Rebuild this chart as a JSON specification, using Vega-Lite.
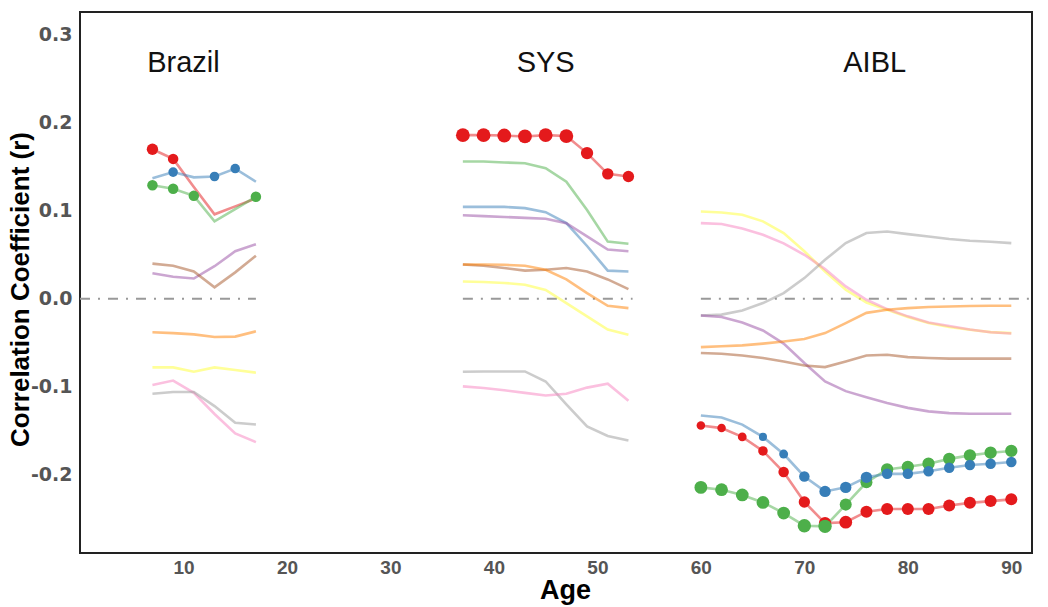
{
  "$schema": "https://vega.github.io/schema/vega-lite/v6.json",
  "width": 952,
  "height": 541,
  "autosize": "none",
  "padding": {"left": 80, "top": 12, "right": 16, "bottom": 54},
  "background": "white",
  "config": {
    "view": {"stroke": "#222", "strokeWidth": 2},
    "font": "Liberation Sans"
  },
  "datasets": {
    "corr": [
      {"cohort":"Brazil","series":"V1","age":7,"r":0.170,"sig":3.4},
      {"cohort":"Brazil","series":"V1","age":9,"r":0.159,"sig":2.9},
      {"cohort":"Brazil","series":"V1","age":11,"r":0.127,"sig":0},
      {"cohort":"Brazil","series":"V1","age":13,"r":0.096,"sig":0},
      {"cohort":"Brazil","series":"V1","age":15,"r":0.105,"sig":0},
      {"cohort":"Brazil","series":"V1","age":17,"r":0.114,"sig":0},
      {"cohort":"Brazil","series":"V3","age":7,"r":0.129,"sig":2.9},
      {"cohort":"Brazil","series":"V3","age":9,"r":0.125,"sig":2.9},
      {"cohort":"Brazil","series":"V3","age":11,"r":0.117,"sig":2.9},
      {"cohort":"Brazil","series":"V3","age":13,"r":0.088,"sig":0},
      {"cohort":"Brazil","series":"V3","age":15,"r":0.102,"sig":0},
      {"cohort":"Brazil","series":"V3","age":17,"r":0.116,"sig":2.9},
      {"cohort":"Brazil","series":"V2","age":7,"r":0.137,"sig":0},
      {"cohort":"Brazil","series":"V2","age":9,"r":0.144,"sig":2.4},
      {"cohort":"Brazil","series":"V2","age":11,"r":0.138,"sig":0},
      {"cohort":"Brazil","series":"V2","age":13,"r":0.139,"sig":2.4},
      {"cohort":"Brazil","series":"V2","age":15,"r":0.148,"sig":2.4},
      {"cohort":"Brazil","series":"V2","age":17,"r":0.133,"sig":0},
      {"cohort":"Brazil","series":"V4","age":7,"r":0.029,"sig":0},
      {"cohort":"Brazil","series":"V4","age":9,"r":0.025,"sig":0},
      {"cohort":"Brazil","series":"V4","age":11,"r":0.023,"sig":0},
      {"cohort":"Brazil","series":"V4","age":13,"r":0.037,"sig":0},
      {"cohort":"Brazil","series":"V4","age":15,"r":0.054,"sig":0},
      {"cohort":"Brazil","series":"V4","age":17,"r":0.062,"sig":0},
      {"cohort":"Brazil","series":"V5","age":7,"r":-0.038,"sig":0},
      {"cohort":"Brazil","series":"V5","age":9,"r":-0.039,"sig":0},
      {"cohort":"Brazil","series":"V5","age":11,"r":-0.0405,"sig":0},
      {"cohort":"Brazil","series":"V5","age":13,"r":-0.0435,"sig":0},
      {"cohort":"Brazil","series":"V5","age":15,"r":-0.043,"sig":0},
      {"cohort":"Brazil","series":"V5","age":17,"r":-0.037,"sig":0},
      {"cohort":"Brazil","series":"V6","age":7,"r":-0.078,"sig":0},
      {"cohort":"Brazil","series":"V6","age":9,"r":-0.078,"sig":0},
      {"cohort":"Brazil","series":"V6","age":11,"r":-0.083,"sig":0},
      {"cohort":"Brazil","series":"V6","age":13,"r":-0.078,"sig":0},
      {"cohort":"Brazil","series":"V6","age":15,"r":-0.081,"sig":0},
      {"cohort":"Brazil","series":"V6","age":17,"r":-0.084,"sig":0},
      {"cohort":"Brazil","series":"V7","age":7,"r":0.040,"sig":0},
      {"cohort":"Brazil","series":"V7","age":9,"r":0.0375,"sig":0},
      {"cohort":"Brazil","series":"V7","age":11,"r":0.031,"sig":0},
      {"cohort":"Brazil","series":"V7","age":13,"r":0.013,"sig":0},
      {"cohort":"Brazil","series":"V7","age":15,"r":0.030,"sig":0},
      {"cohort":"Brazil","series":"V7","age":17,"r":0.049,"sig":0},
      {"cohort":"Brazil","series":"V8","age":7,"r":-0.098,"sig":0},
      {"cohort":"Brazil","series":"V8","age":9,"r":-0.093,"sig":0},
      {"cohort":"Brazil","series":"V8","age":11,"r":-0.107,"sig":0},
      {"cohort":"Brazil","series":"V8","age":13,"r":-0.131,"sig":0},
      {"cohort":"Brazil","series":"V8","age":15,"r":-0.153,"sig":0},
      {"cohort":"Brazil","series":"V8","age":17,"r":-0.163,"sig":0},
      {"cohort":"Brazil","series":"V9","age":7,"r":-0.108,"sig":0},
      {"cohort":"Brazil","series":"V9","age":9,"r":-0.106,"sig":0},
      {"cohort":"Brazil","series":"V9","age":11,"r":-0.106,"sig":0},
      {"cohort":"Brazil","series":"V9","age":13,"r":-0.122,"sig":0},
      {"cohort":"Brazil","series":"V9","age":15,"r":-0.141,"sig":0},
      {"cohort":"Brazil","series":"V9","age":17,"r":-0.143,"sig":0},

      {"cohort":"SYS","series":"V1","age":37,"r":0.186,"sig":5},
      {"cohort":"SYS","series":"V1","age":39,"r":0.186,"sig":5},
      {"cohort":"SYS","series":"V1","age":41,"r":0.1856,"sig":5},
      {"cohort":"SYS","series":"V1","age":43,"r":0.1845,"sig":5},
      {"cohort":"SYS","series":"V1","age":45,"r":0.186,"sig":5},
      {"cohort":"SYS","series":"V1","age":47,"r":0.185,"sig":5},
      {"cohort":"SYS","series":"V1","age":49,"r":0.1656,"sig":4},
      {"cohort":"SYS","series":"V1","age":51,"r":0.142,"sig":3.4},
      {"cohort":"SYS","series":"V1","age":53,"r":0.139,"sig":3.4},
      {"cohort":"SYS","series":"V3","age":37,"r":0.156,"sig":0},
      {"cohort":"SYS","series":"V3","age":39,"r":0.156,"sig":0},
      {"cohort":"SYS","series":"V3","age":41,"r":0.155,"sig":0},
      {"cohort":"SYS","series":"V3","age":43,"r":0.154,"sig":0},
      {"cohort":"SYS","series":"V3","age":45,"r":0.1485,"sig":0},
      {"cohort":"SYS","series":"V3","age":47,"r":0.133,"sig":0},
      {"cohort":"SYS","series":"V3","age":49,"r":0.101,"sig":0},
      {"cohort":"SYS","series":"V3","age":51,"r":0.065,"sig":0},
      {"cohort":"SYS","series":"V3","age":53,"r":0.0625,"sig":0},
      {"cohort":"SYS","series":"V2","age":37,"r":0.1045,"sig":0},
      {"cohort":"SYS","series":"V2","age":39,"r":0.1045,"sig":0},
      {"cohort":"SYS","series":"V2","age":41,"r":0.1045,"sig":0},
      {"cohort":"SYS","series":"V2","age":43,"r":0.103,"sig":0},
      {"cohort":"SYS","series":"V2","age":45,"r":0.0985,"sig":0},
      {"cohort":"SYS","series":"V2","age":47,"r":0.086,"sig":0},
      {"cohort":"SYS","series":"V2","age":49,"r":0.060,"sig":0},
      {"cohort":"SYS","series":"V2","age":51,"r":0.032,"sig":0},
      {"cohort":"SYS","series":"V2","age":53,"r":0.031,"sig":0},
      {"cohort":"SYS","series":"V4","age":37,"r":0.095,"sig":0},
      {"cohort":"SYS","series":"V4","age":39,"r":0.094,"sig":0},
      {"cohort":"SYS","series":"V4","age":41,"r":0.093,"sig":0},
      {"cohort":"SYS","series":"V4","age":43,"r":0.092,"sig":0},
      {"cohort":"SYS","series":"V4","age":45,"r":0.091,"sig":0},
      {"cohort":"SYS","series":"V4","age":47,"r":0.086,"sig":0},
      {"cohort":"SYS","series":"V4","age":49,"r":0.071,"sig":0},
      {"cohort":"SYS","series":"V4","age":51,"r":0.056,"sig":0},
      {"cohort":"SYS","series":"V4","age":53,"r":0.054,"sig":0},
      {"cohort":"SYS","series":"V7","age":37,"r":0.039,"sig":0},
      {"cohort":"SYS","series":"V7","age":39,"r":0.0375,"sig":0},
      {"cohort":"SYS","series":"V7","age":41,"r":0.035,"sig":0},
      {"cohort":"SYS","series":"V7","age":43,"r":0.032,"sig":0},
      {"cohort":"SYS","series":"V7","age":45,"r":0.033,"sig":0},
      {"cohort":"SYS","series":"V7","age":47,"r":0.035,"sig":0},
      {"cohort":"SYS","series":"V7","age":49,"r":0.031,"sig":0},
      {"cohort":"SYS","series":"V7","age":51,"r":0.022,"sig":0},
      {"cohort":"SYS","series":"V7","age":53,"r":0.011,"sig":0},
      {"cohort":"SYS","series":"V5","age":37,"r":0.039,"sig":0},
      {"cohort":"SYS","series":"V5","age":39,"r":0.039,"sig":0},
      {"cohort":"SYS","series":"V5","age":41,"r":0.0386,"sig":0},
      {"cohort":"SYS","series":"V5","age":43,"r":0.0375,"sig":0},
      {"cohort":"SYS","series":"V5","age":45,"r":0.033,"sig":0},
      {"cohort":"SYS","series":"V5","age":47,"r":0.022,"sig":0},
      {"cohort":"SYS","series":"V5","age":49,"r":0.0065,"sig":0},
      {"cohort":"SYS","series":"V5","age":51,"r":-0.008,"sig":0},
      {"cohort":"SYS","series":"V5","age":53,"r":-0.0106,"sig":0},
      {"cohort":"SYS","series":"V6","age":37,"r":0.0197,"sig":0},
      {"cohort":"SYS","series":"V6","age":39,"r":0.019,"sig":0},
      {"cohort":"SYS","series":"V6","age":41,"r":0.018,"sig":0},
      {"cohort":"SYS","series":"V6","age":43,"r":0.016,"sig":0},
      {"cohort":"SYS","series":"V6","age":45,"r":0.010,"sig":0},
      {"cohort":"SYS","series":"V6","age":47,"r":-0.005,"sig":0},
      {"cohort":"SYS","series":"V6","age":49,"r":-0.020,"sig":0},
      {"cohort":"SYS","series":"V6","age":51,"r":-0.035,"sig":0},
      {"cohort":"SYS","series":"V6","age":53,"r":-0.041,"sig":0},
      {"cohort":"SYS","series":"V9","age":37,"r":-0.083,"sig":0},
      {"cohort":"SYS","series":"V9","age":39,"r":-0.0826,"sig":0},
      {"cohort":"SYS","series":"V9","age":41,"r":-0.0826,"sig":0},
      {"cohort":"SYS","series":"V9","age":43,"r":-0.0826,"sig":0},
      {"cohort":"SYS","series":"V9","age":45,"r":-0.094,"sig":0},
      {"cohort":"SYS","series":"V9","age":47,"r":-0.120,"sig":0},
      {"cohort":"SYS","series":"V9","age":49,"r":-0.145,"sig":0},
      {"cohort":"SYS","series":"V9","age":51,"r":-0.156,"sig":0},
      {"cohort":"SYS","series":"V9","age":53,"r":-0.161,"sig":0},
      {"cohort":"SYS","series":"V8","age":37,"r":-0.0996,"sig":0},
      {"cohort":"SYS","series":"V8","age":39,"r":-0.1015,"sig":0},
      {"cohort":"SYS","series":"V8","age":41,"r":-0.104,"sig":0},
      {"cohort":"SYS","series":"V8","age":43,"r":-0.107,"sig":0},
      {"cohort":"SYS","series":"V8","age":45,"r":-0.110,"sig":0},
      {"cohort":"SYS","series":"V8","age":47,"r":-0.108,"sig":0},
      {"cohort":"SYS","series":"V8","age":49,"r":-0.101,"sig":0},
      {"cohort":"SYS","series":"V8","age":51,"r":-0.0966,"sig":0},
      {"cohort":"SYS","series":"V8","age":53,"r":-0.116,"sig":0},

      {"cohort":"AIBL","series":"V1","age":60,"r":-0.144,"sig":1.9},
      {"cohort":"AIBL","series":"V1","age":62,"r":-0.147,"sig":1.9},
      {"cohort":"AIBL","series":"V1","age":64,"r":-0.157,"sig":2.0},
      {"cohort":"AIBL","series":"V1","age":66,"r":-0.173,"sig":2.4},
      {"cohort":"AIBL","series":"V1","age":68,"r":-0.197,"sig":2.9},
      {"cohort":"AIBL","series":"V1","age":70,"r":-0.231,"sig":3.4},
      {"cohort":"AIBL","series":"V1","age":72,"r":-0.255,"sig":4.0},
      {"cohort":"AIBL","series":"V1","age":74,"r":-0.254,"sig":4.3},
      {"cohort":"AIBL","series":"V1","age":76,"r":-0.242,"sig":3.8},
      {"cohort":"AIBL","series":"V1","age":78,"r":-0.239,"sig":3.8},
      {"cohort":"AIBL","series":"V1","age":80,"r":-0.239,"sig":3.8},
      {"cohort":"AIBL","series":"V1","age":82,"r":-0.239,"sig":3.8},
      {"cohort":"AIBL","series":"V1","age":84,"r":-0.235,"sig":3.8},
      {"cohort":"AIBL","series":"V1","age":86,"r":-0.232,"sig":3.8},
      {"cohort":"AIBL","series":"V1","age":88,"r":-0.230,"sig":3.8},
      {"cohort":"AIBL","series":"V1","age":90,"r":-0.228,"sig":3.8},
      {"cohort":"AIBL","series":"V3","age":60,"r":-0.2144,"sig":4.3},
      {"cohort":"AIBL","series":"V3","age":62,"r":-0.217,"sig":4.3},
      {"cohort":"AIBL","series":"V3","age":64,"r":-0.223,"sig":4.3},
      {"cohort":"AIBL","series":"V3","age":66,"r":-0.2315,"sig":4.3},
      {"cohort":"AIBL","series":"V3","age":68,"r":-0.2436,"sig":4.3},
      {"cohort":"AIBL","series":"V3","age":70,"r":-0.258,"sig":4.7},
      {"cohort":"AIBL","series":"V3","age":72,"r":-0.2587,"sig":4.7},
      {"cohort":"AIBL","series":"V3","age":74,"r":-0.234,"sig":3.8},
      {"cohort":"AIBL","series":"V3","age":76,"r":-0.2087,"sig":3.8},
      {"cohort":"AIBL","series":"V3","age":78,"r":-0.194,"sig":4.0},
      {"cohort":"AIBL","series":"V3","age":80,"r":-0.191,"sig":4.0},
      {"cohort":"AIBL","series":"V3","age":82,"r":-0.1875,"sig":4.0},
      {"cohort":"AIBL","series":"V3","age":84,"r":-0.182,"sig":4.0},
      {"cohort":"AIBL","series":"V3","age":86,"r":-0.178,"sig":4.0},
      {"cohort":"AIBL","series":"V3","age":88,"r":-0.175,"sig":4.0},
      {"cohort":"AIBL","series":"V3","age":90,"r":-0.173,"sig":4.0},
      {"cohort":"AIBL","series":"V2","age":60,"r":-0.1326,"sig":0},
      {"cohort":"AIBL","series":"V2","age":62,"r":-0.135,"sig":0},
      {"cohort":"AIBL","series":"V2","age":64,"r":-0.143,"sig":0},
      {"cohort":"AIBL","series":"V2","age":66,"r":-0.157,"sig":1.7},
      {"cohort":"AIBL","series":"V2","age":68,"r":-0.1765,"sig":2.1},
      {"cohort":"AIBL","series":"V2","age":70,"r":-0.202,"sig":2.9},
      {"cohort":"AIBL","series":"V2","age":72,"r":-0.219,"sig":3.4},
      {"cohort":"AIBL","series":"V2","age":74,"r":-0.2144,"sig":3.4},
      {"cohort":"AIBL","series":"V2","age":76,"r":-0.203,"sig":3.4},
      {"cohort":"AIBL","series":"V2","age":78,"r":-0.199,"sig":2.9},
      {"cohort":"AIBL","series":"V2","age":80,"r":-0.199,"sig":2.9},
      {"cohort":"AIBL","series":"V2","age":82,"r":-0.196,"sig":2.9},
      {"cohort":"AIBL","series":"V2","age":84,"r":-0.192,"sig":2.9},
      {"cohort":"AIBL","series":"V2","age":86,"r":-0.189,"sig":2.9},
      {"cohort":"AIBL","series":"V2","age":88,"r":-0.1875,"sig":2.9},
      {"cohort":"AIBL","series":"V2","age":90,"r":-0.1856,"sig":2.9},
      {"cohort":"AIBL","series":"V6","age":60,"r":0.0992,"sig":0},
      {"cohort":"AIBL","series":"V6","age":62,"r":0.098,"sig":0},
      {"cohort":"AIBL","series":"V6","age":64,"r":0.0955,"sig":0},
      {"cohort":"AIBL","series":"V6","age":66,"r":0.088,"sig":0},
      {"cohort":"AIBL","series":"V6","age":68,"r":0.0747,"sig":0},
      {"cohort":"AIBL","series":"V6","age":70,"r":0.054,"sig":0},
      {"cohort":"AIBL","series":"V6","age":72,"r":0.031,"sig":0},
      {"cohort":"AIBL","series":"V6","age":74,"r":0.0102,"sig":0},
      {"cohort":"AIBL","series":"V6","age":76,"r":-0.0042,"sig":0},
      {"cohort":"AIBL","series":"V6","age":78,"r":-0.0125,"sig":0},
      {"cohort":"AIBL","series":"V6","age":80,"r":-0.0208,"sig":0},
      {"cohort":"AIBL","series":"V6","age":82,"r":-0.0276,"sig":0},
      {"cohort":"AIBL","series":"V6","age":84,"r":-0.032,"sig":0},
      {"cohort":"AIBL","series":"V6","age":86,"r":-0.0352,"sig":0},
      {"cohort":"AIBL","series":"V6","age":88,"r":-0.0379,"sig":0},
      {"cohort":"AIBL","series":"V6","age":90,"r":-0.039,"sig":0},
      {"cohort":"AIBL","series":"V8","age":60,"r":0.086,"sig":0},
      {"cohort":"AIBL","series":"V8","age":62,"r":0.085,"sig":0},
      {"cohort":"AIBL","series":"V8","age":64,"r":0.080,"sig":0},
      {"cohort":"AIBL","series":"V8","age":66,"r":0.0727,"sig":0},
      {"cohort":"AIBL","series":"V8","age":68,"r":0.063,"sig":0},
      {"cohort":"AIBL","series":"V8","age":70,"r":0.050,"sig":0},
      {"cohort":"AIBL","series":"V8","age":72,"r":0.0337,"sig":0},
      {"cohort":"AIBL","series":"V8","age":74,"r":0.014,"sig":0},
      {"cohort":"AIBL","series":"V8","age":76,"r":-0.0011,"sig":0},
      {"cohort":"AIBL","series":"V8","age":78,"r":-0.0117,"sig":0},
      {"cohort":"AIBL","series":"V8","age":80,"r":-0.020,"sig":0},
      {"cohort":"AIBL","series":"V8","age":82,"r":-0.027,"sig":0},
      {"cohort":"AIBL","series":"V8","age":84,"r":-0.031,"sig":0},
      {"cohort":"AIBL","series":"V8","age":86,"r":-0.035,"sig":0},
      {"cohort":"AIBL","series":"V8","age":88,"r":-0.038,"sig":0},
      {"cohort":"AIBL","series":"V8","age":90,"r":-0.0395,"sig":0},
      {"cohort":"AIBL","series":"V9","age":60,"r":-0.019,"sig":0},
      {"cohort":"AIBL","series":"V9","age":62,"r":-0.018,"sig":0},
      {"cohort":"AIBL","series":"V9","age":64,"r":-0.0133,"sig":0},
      {"cohort":"AIBL","series":"V9","age":66,"r":-0.0049,"sig":0},
      {"cohort":"AIBL","series":"V9","age":68,"r":0.0065,"sig":0},
      {"cohort":"AIBL","series":"V9","age":70,"r":0.0235,"sig":0},
      {"cohort":"AIBL","series":"V9","age":72,"r":0.0443,"sig":0},
      {"cohort":"AIBL","series":"V9","age":74,"r":0.0633,"sig":0},
      {"cohort":"AIBL","series":"V9","age":76,"r":0.0747,"sig":0},
      {"cohort":"AIBL","series":"V9","age":78,"r":0.0765,"sig":0},
      {"cohort":"AIBL","series":"V9","age":80,"r":0.0735,"sig":0},
      {"cohort":"AIBL","series":"V9","age":82,"r":0.0708,"sig":0},
      {"cohort":"AIBL","series":"V9","age":84,"r":0.068,"sig":0},
      {"cohort":"AIBL","series":"V9","age":86,"r":0.066,"sig":0},
      {"cohort":"AIBL","series":"V9","age":88,"r":0.0648,"sig":0},
      {"cohort":"AIBL","series":"V9","age":90,"r":0.0633,"sig":0},
      {"cohort":"AIBL","series":"V4","age":60,"r":-0.019,"sig":0},
      {"cohort":"AIBL","series":"V4","age":62,"r":-0.0208,"sig":0},
      {"cohort":"AIBL","series":"V4","age":64,"r":-0.027,"sig":0},
      {"cohort":"AIBL","series":"V4","age":66,"r":-0.036,"sig":0},
      {"cohort":"AIBL","series":"V4","age":68,"r":-0.051,"sig":0},
      {"cohort":"AIBL","series":"V4","age":70,"r":-0.073,"sig":0},
      {"cohort":"AIBL","series":"V4","age":72,"r":-0.094,"sig":0},
      {"cohort":"AIBL","series":"V4","age":74,"r":-0.105,"sig":0},
      {"cohort":"AIBL","series":"V4","age":76,"r":-0.112,"sig":0},
      {"cohort":"AIBL","series":"V4","age":78,"r":-0.1185,"sig":0},
      {"cohort":"AIBL","series":"V4","age":80,"r":-0.124,"sig":0},
      {"cohort":"AIBL","series":"V4","age":82,"r":-0.128,"sig":0},
      {"cohort":"AIBL","series":"V4","age":84,"r":-0.130,"sig":0},
      {"cohort":"AIBL","series":"V4","age":86,"r":-0.1307,"sig":0},
      {"cohort":"AIBL","series":"V4","age":88,"r":-0.1307,"sig":0},
      {"cohort":"AIBL","series":"V4","age":90,"r":-0.1307,"sig":0},
      {"cohort":"AIBL","series":"V5","age":60,"r":-0.055,"sig":0},
      {"cohort":"AIBL","series":"V5","age":62,"r":-0.054,"sig":0},
      {"cohort":"AIBL","series":"V5","age":64,"r":-0.053,"sig":0},
      {"cohort":"AIBL","series":"V5","age":66,"r":-0.051,"sig":0},
      {"cohort":"AIBL","series":"V5","age":68,"r":-0.0485,"sig":0},
      {"cohort":"AIBL","series":"V5","age":70,"r":-0.0458,"sig":0},
      {"cohort":"AIBL","series":"V5","age":72,"r":-0.039,"sig":0},
      {"cohort":"AIBL","series":"V5","age":74,"r":-0.0276,"sig":0},
      {"cohort":"AIBL","series":"V5","age":76,"r":-0.016,"sig":0},
      {"cohort":"AIBL","series":"V5","age":78,"r":-0.0125,"sig":0},
      {"cohort":"AIBL","series":"V5","age":80,"r":-0.0106,"sig":0},
      {"cohort":"AIBL","series":"V5","age":82,"r":-0.0094,"sig":0},
      {"cohort":"AIBL","series":"V5","age":84,"r":-0.0087,"sig":0},
      {"cohort":"AIBL","series":"V5","age":86,"r":-0.0083,"sig":0},
      {"cohort":"AIBL","series":"V5","age":88,"r":-0.008,"sig":0},
      {"cohort":"AIBL","series":"V5","age":90,"r":-0.008,"sig":0},
      {"cohort":"AIBL","series":"V7","age":60,"r":-0.0617,"sig":0},
      {"cohort":"AIBL","series":"V7","age":62,"r":-0.0625,"sig":0},
      {"cohort":"AIBL","series":"V7","age":64,"r":-0.0644,"sig":0},
      {"cohort":"AIBL","series":"V7","age":66,"r":-0.0674,"sig":0},
      {"cohort":"AIBL","series":"V7","age":68,"r":-0.0712,"sig":0},
      {"cohort":"AIBL","series":"V7","age":70,"r":-0.0758,"sig":0},
      {"cohort":"AIBL","series":"V7","age":72,"r":-0.0777,"sig":0},
      {"cohort":"AIBL","series":"V7","age":74,"r":-0.0712,"sig":0},
      {"cohort":"AIBL","series":"V7","age":76,"r":-0.0644,"sig":0},
      {"cohort":"AIBL","series":"V7","age":78,"r":-0.0636,"sig":0},
      {"cohort":"AIBL","series":"V7","age":80,"r":-0.0663,"sig":0},
      {"cohort":"AIBL","series":"V7","age":82,"r":-0.0674,"sig":0},
      {"cohort":"AIBL","series":"V7","age":84,"r":-0.068,"sig":0},
      {"cohort":"AIBL","series":"V7","age":86,"r":-0.068,"sig":0},
      {"cohort":"AIBL","series":"V7","age":88,"r":-0.068,"sig":0},
      {"cohort":"AIBL","series":"V7","age":90,"r":-0.068,"sig":0}
    ],
    "zero": [
      {"cohort":"Brazil","from":0,"to":17,"r":0},
      {"cohort":"SYS","from":37,"to":53.4,"r":0},
      {"cohort":"AIBL","from":60,"to":92,"r":0}
    ],
    "titles": [
      {"label":"Brazil","age":10,"r":0.258},
      {"label":"SYS","age":45,"r":0.258},
      {"label":"AIBL","age":76.8,"r":0.258}
    ]
  },
  "encoding": {
    "x": {
      "field": "age", "type": "quantitative",
      "scale": {"domain": [0, 92], "nice": false, "zero": false},
      "axis": {
        "title": "Age", "values": [10,20,30,40,50,60,70,80,90],
        "grid": false, "ticks": false, "domain": false,
        "labelFontSize": 19, "labelFontWeight": "bold", "labelColor": "#555555",
        "labelPadding": 5, "labelFont": "Liberation Sans",
        "titleFontSize": 27, "titleFontWeight": "bold", "titleColor": "#000000",
        "titlePadding": 0, "titleFont": "Liberation Sans", "titleX": 485
      }
    },
    "y": {
      "field": "r", "type": "quantitative",
      "scale": {"domain": [-0.289, 0.326], "nice": false, "zero": false},
      "axis": {
        "title": "Correlation Coefficient (r)", "values": [-0.2,-0.1,0,0.1,0.2,0.3],
        "labelExpr": "replace(format(datum.value, '.1f'), '\u2212', '-')",
        "grid": false, "ticks": false, "domain": false,
        "labelFontSize": 19, "labelFontWeight": "bold", "labelColor": "#555555",
        "labelPadding": 8, "labelFont": "DejaVu Sans",
        "titleFontSize": 26, "titleFontWeight": "bold", "titleColor": "#000000",
        "titleFont": "Liberation Sans",
        "titleX": -52, "titleY": 277, "titleAngle": -90, "titleAlign": "center", "titleBaseline": "alphabetic"
      }
    }
  },
  "layer": [
    {
      "data": {"name": "zero"},
      "mark": {"type": "rule", "stroke": "#999999", "strokeWidth": 2, "strokeDash": [10, 8, 2, 8]},
      "encoding": {
        "x": {"field": "from", "type": "quantitative"},
        "x2": {"field": "to"},
        "y": {"field": "r", "type": "quantitative"}
      }
    },
    {
      "data": {"name": "corr"},
      "mark": {"type": "line", "strokeWidth": 2.6, "opacity": 0.5},
      "encoding": {
        "color": {
          "field": "series", "type": "nominal", "legend": null,
          "scale": {
            "domain": ["V1","V2","V3","V4","V5","V6","V7","V8","V9"],
            "range": ["#E41A1C","#377EB8","#4DAF4A","#984EA3","#FF7F00","#FFFF33","#A65628","#F781BF","#999999"]
          }
        },
        "detail": {"field": "cohort", "type": "nominal"}
      }
    },
    {
      "data": {"name": "corr"},
      "transform": [{"filter": "datum.sig > 0"}],
      "mark": {"type": "point", "filled": true, "opacity": 1, "shape": "circle"},
      "encoding": {
        "color": {"field": "series", "type": "nominal", "legend": null},
        "size": {
          "field": "sig", "type": "quantitative", "legend": null,
          "scale": {"domain": [0, 5], "range": [0, 190], "zero": true}
        }
      }
    },
    {
      "data": {"name": "titles"},
      "mark": {"type": "text", "fontSize": 29, "font": "Liberation Sans", "align": "center", "baseline": "alphabetic", "color": "#111111"},
      "encoding": {
        "text": {"field": "label"}
      }
    }
  ]
}
